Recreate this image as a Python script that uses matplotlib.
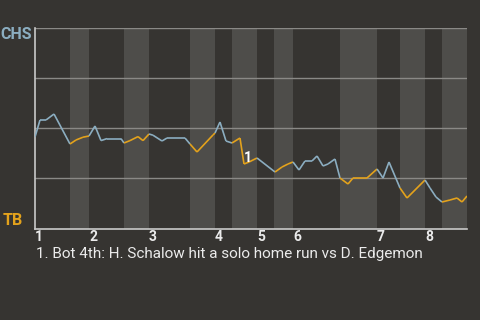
import matplotlib
matplotlib.use("Agg")
import matplotlib.pyplot as plt

# ---- data ----
play_x = [0, 1.16, 2.55, 4.40, 8.10, 9.49, 11.11, 12.50, 13.89, 15.28, 16.67, 19.91,
          20.60, 21.99, 23.84, 25.00, 26.39, 27.31, 29.40, 30.56, 34.72, 35.88, 37.50,
          41.20, 41.67, 42.82, 44.21, 45.60, 47.45, 48.38, 49.54, 51.39, 55.56, 57.18,
          58.56, 59.72, 61.11, 62.50, 64.12, 65.28, 66.67, 67.82, 69.44, 70.60, 72.45,
          73.61, 76.85, 79.17, 80.56, 81.94, 84.49, 86.11, 90.28, 91.44, 92.82, 94.21,
          96.06, 97.69, 98.84, 100]
chs_win = [0.455, 0.54, 0.54, 0.57, 0.42, 0.44, 0.454, 0.46, 0.51, 0.437, 0.447, 0.447,
           0.425, 0.437, 0.457, 0.437, 0.47, 0.464, 0.435, 0.45, 0.45, 0.42, 0.38,
           0.465, 0.475, 0.53, 0.435, 0.425, 0.45, 0.32, 0.33, 0.35, 0.28, 0.305,
           0.32, 0.33, 0.29, 0.335, 0.335, 0.36, 0.31, 0.32, 0.345, 0.25, 0.22,
           0.25, 0.25, 0.295, 0.25, 0.33, 0.20, 0.15, 0.24, 0.20, 0.155, 0.13,
           0.14, 0.15, 0.13, 0.16]
# half-inning start positions (top, bottom alternating) and game end
half_starts = [0, 8.10, 12.50, 20.60, 26.39, 35.88, 41.67, 45.60, 51.39, 55.30,
               59.72, 70.60, 79.17, 84.49, 90.28, 94.21]
game_end = 100
inning_labels = ["1", "2", "3", "4", "5", "6", "7", "8"]
away_team = "CHS"
home_team = "TB"
event_x = 48.38
event_y = 0.32
event_num = "1"
caption = "1. Bot 4th: H. Schalow hit a solo home run vs D. Edgemon"

# ---- style ----
BG = "#363431"
BAND = "#4e4d4a"
GRID = "#8a8986"
SPINE = "#c9c9c9"
BLUE = "#8badc0"
ORANGE = "#e3a21c"
TEXT = "#ebebeb"
FONT = "Roboto"

fig = plt.figure(figsize=(4.8, 3.2), dpi=100, facecolor=BG)
ax = fig.add_axes([35 / 480, 1 - 229 / 320, 432 / 480, 201 / 320])
ax.set_facecolor(BG)

ends = half_starts[1:] + [game_end]
for i, (s, e) in enumerate(zip(half_starts, ends)):
    if i % 2 == 1:
        ax.axvspan(s, e, color=BAND, lw=0, zorder=0)

for g in [0.25, 0.5, 0.75, 1.0]:
    ax.axhline(g, color=GRID, lw=1.0, zorder=1)

# line segments colored by batting half
for i in range(len(play_x) - 1):
    mid = 0.5 * (play_x[i] + play_x[i + 1])
    half = max(j for j, s in enumerate(half_starts) if s <= mid)
    col = ORANGE if half % 2 == 1 else BLUE
    ax.plot(play_x[i:i + 2], chs_win[i:i + 2], color=col, lw=1.2,
            solid_capstyle="butt", zorder=3)

ax.annotate(event_num, (event_x, event_y), xytext=(4, 6), textcoords="offset pixels",
            ha="center", va="center", color="white", fontsize=10, fontweight="bold",
            family=FONT, zorder=4)

ax.set_xlim(0, game_end)
ax.set_ylim(-0.005, 1.0)
ax.set_yticks([])
ax.set_xticks(half_starts[0::2])
ax.set_xticklabels(inning_labels, family=FONT, fontweight="bold", fontsize=10,
                   color=TEXT, ha="left")
ax.tick_params(axis="x", length=0, pad=1)
for sp in ["top", "right"]:
    ax.spines[sp].set_visible(False)
for sp in ["left", "bottom"]:
    ax.spines[sp].set_color(SPINE)
    ax.spines[sp].set_linewidth(1.2)

fig.text(32 / 480, 1 - 27 / 320, away_team, ha="right", va="top", color=BLUE,
         fontsize=11.5, fontweight="bold", family=FONT)
fig.text(3 / 480, 1 - 225 / 320, home_team, ha="left", va="baseline", color=ORANGE,
         fontsize=11.5, fontweight="bold", family=FONT)
fig.text(36 / 480, 1 - 258 / 320, caption, ha="left", va="baseline", color=TEXT,
         fontsize=11, family=FONT)

fig.savefig("out.png", dpi=100, facecolor=BG)
